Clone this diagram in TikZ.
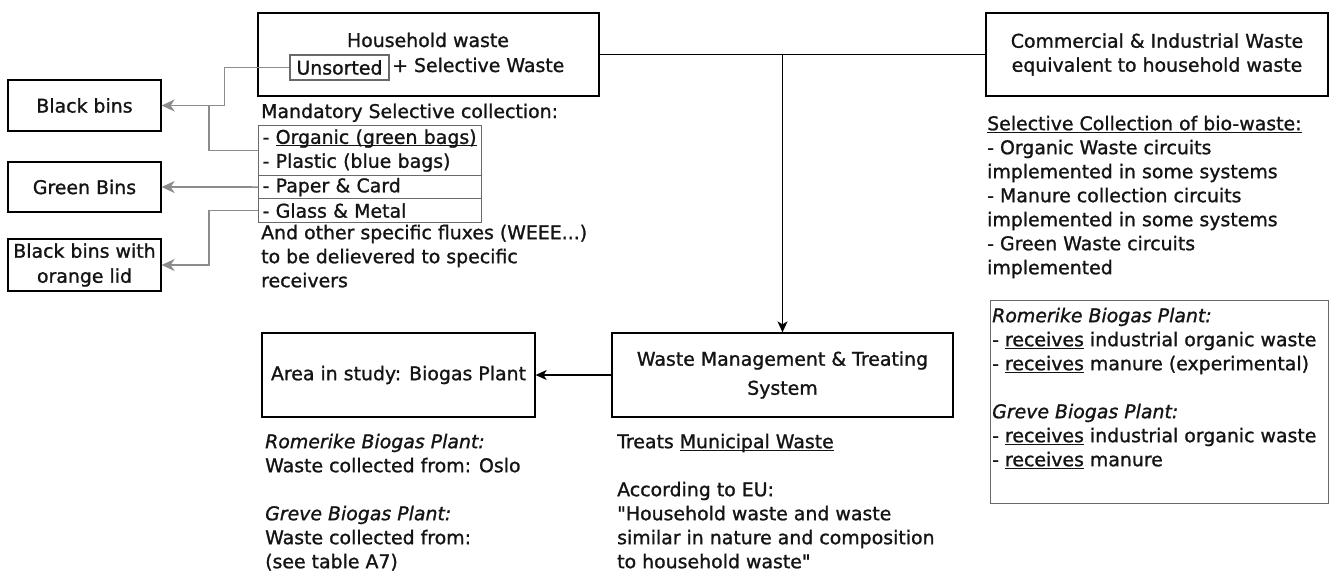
\documentclass[tikz,border=0pt]{standalone}
\usepackage{fontspec}
\setmainfont{DejaVu Sans}[Ligatures=TeXOff, RawFeature={embolden=1.2}]
\usetikzlibrary{arrows.meta}
\definecolor{gline}{RGB}{140,140,140}
\definecolor{tline}{RGB}{105,105,105}
\definecolor{ink}{RGB}{20,20,20}
\newcommand\txt{\fontsize{18.9}{24}\selectfont}
% underline drawn just under the baseline
\newcommand\udl[1]{\setbox0\hbox{#1}\rlap{\rule[-2.6pt]{\wd0}{1.2pt}}\box0\relax}
\tikzset{
  every node/.style={font=\txt, text=ink},
  box/.style={draw=black, line width=1.3pt, inner sep=0pt, align=center},
  tbl/.style={draw=tline, line width=1.2pt, inner xsep=4pt, inner ysep=0pt, align=left, anchor=north west, text width=215pt},
  para/.style={anchor=north west, inner sep=0pt, align=left},
  gconn/.style={draw=gline, line width=1.7pt, -{Stealth[length=13pt,width=12pt,inset=4pt]}},
  gwire/.style={draw=gline, line width=1.7pt},
  bconn/.style={draw=black, line width=1.3pt, -{Stealth[length=11pt,width=10pt,inset=3pt]}},
  bwire/.style={draw=black, line width=1.3pt}
}
\begin{document}
\begin{tikzpicture}[x=1pt,y=-1pt]
\useasboundingbox (0,0) rectangle (1331,574);

% household waste
\node[box, minimum width=341pt, minimum height=83pt] (hh) at (428.5,54.5) {};
\node[anchor=base, inner sep=0pt] (hhA) at (428,47) {Household waste};
\node[draw=tline, line width=1.2pt, minimum width=99pt, minimum height=25pt, inner sep=0pt] (uns) at (339.5,67.5) {Unsorted};
\node[anchor=base west, inner sep=0pt] (hhB) at (392,72) {+ Selective Waste};

% commercial waste
\node[box, minimum width=342pt, minimum height=83pt] (cw) at (1157,54.5) {Commercial \& Industrial Waste\\equivalent to household waste};

% bins
\node[box, minimum width=153pt, minimum height=51pt] (bb) at (84.5,105.5) {Black bins};
\node[box, minimum width=153pt, minimum height=50pt] (gb) at (84.5,187) {Green Bins};
\node[box, minimum width=153pt, minimum height=52pt] (ob) at (84.5,265) {Black bins with\\[1pt]orange lid};

% selective collection list
\node[anchor=base west, inner sep=0pt] (mand) at (261,118) {Mandatory Selective collection:};
\node[tbl, minimum height=50pt] (lst1) at (258,125) {- \udl{Organic (green bags)}\\- Plastic (blue bags)};
\node[tbl, minimum height=23pt] (lst2) at (258,175) {- Paper \& Card};
\node[tbl, minimum height=24pt] (lst3) at (258,198) {- Glass \& Metal};
\node[para] (other) at (261,222.2) {\strut And other specific fluxes (WEEE...)\\to be delievered to specific\\receivers};

% bio-waste collection
\node[para] (sel) at (987,113.2) {\strut\udl{Selective Collection of bio-waste:}\\- Organic Waste circuits\\implemented in some systems\\- Manure collection circuits\\implemented in some systems\\- Green Waste circuits\\implemented};
\node[draw=tline, line width=1.2pt, anchor=north west, minimum width=338pt, minimum height=203pt, inner sep=0pt] (rb) at (990,300) {};
\node[para] (rbt) at (992,305.2) {\strut\textit{Romerike Biogas Plant:}\\- \udl{receives} industrial organic waste\\- \udl{receives} manure (experimental)\\[24pt]\textit{Greve Biogas Plant:}\\- \udl{receives} industrial organic waste\\- \udl{receives} manure};

% treatment
\node[box, minimum width=341pt, minimum height=84pt] (wm) at (782.5,375) {Waste Management \& Treating\\[5pt]System};
\node[box, minimum width=273pt, minimum height=84pt] (area) at (398.5,375) {Area in study: Biogas Plant};
\node[para] (areat) at (265,431.2) {\strut\textit{Romerike Biogas Plant:}\\Waste collected from: Oslo\\[24pt]\textit{Greve Biogas Plant:}\\Waste collected from:\\(see table A7)};
\node[para] (wmt) at (617,431.2) {\strut Treats \udl{Municipal Waste}\\[24pt]According to EU:\\"Household waste and waste\\similar in nature and composition\\to household waste"};

% connectors
\coordinate (jn) at (209,105.5);
\draw[gconn] (uns.west) -- ++(-65,0) |- (bb.east);
\draw[gwire] (lst1.west) -| (jn);
\draw[gconn] (lst2.west) -- (gb.east);
\draw[gconn] (lst3.west) -- ++(-49,0) |- (ob.east);
\draw[bwire] (hh.east) -- (cw.west);
\draw[bconn] (hh.east -| wm.north) -- (wm.north);
\draw[bconn] (wm.west) -- (area.east);
\end{tikzpicture}
\end{document}
